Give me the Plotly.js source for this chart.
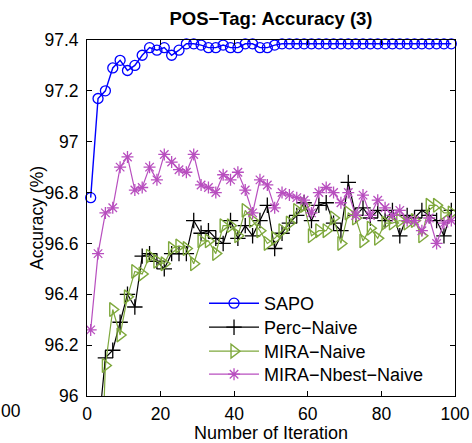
<!DOCTYPE html>
<html>
<head>
<meta charset="utf-8">
<script src="https://cdn.plot.ly/plotly-3.0.1.min.js"></script>
<style>html,body{margin:0;padding:0;background:#fff;}#chart{width:472px;height:443px;}</style>
</head>
<body>
<div id="chart"></div>
<script>
var iterations = [1,3,5,7,9,11,13,15,17,19,21,23,25,27,29,31,33,35,37,39,41,43,45,47,49,51,53,55,57,59,61,63,65,67,69,71,73,75,77,79,81,83,85,87,89,91,93,95,97,99];

var sapo = [96.78,97.17,97.20,97.29,97.32,97.28,97.30,97.34,97.37,97.36,97.37,97.34,97.36,97.385,97.385,97.38,97.37,97.37,97.38,97.37,97.37,97.385,97.385,97.37,97.37,97.38,97.385,97.385,97.385,97.385,97.385,97.385,97.385,97.385,97.385,97.385,97.385,97.385,97.385,97.385,97.385,97.385,97.385,97.385,97.385,97.385,97.385,97.385,97.385,97.385];

var percNaive = [95.4,95.85,96.15,96.18,96.29,96.40,96.35,96.55,96.56,96.53,96.50,96.56,96.56,96.56,96.69,96.64,96.65,96.62,96.60,96.69,96.62,96.67,96.63,96.69,96.75,96.58,96.64,96.68,96.71,96.76,96.69,96.75,96.76,96.68,96.65,96.84,96.71,96.74,96.70,96.73,96.69,96.73,96.63,96.71,96.70,96.73,96.71,96.69,96.63,96.73];

var miraNaive = [94.8,95.32,96.12,96.34,96.24,96.39,96.49,96.48,96.55,96.53,96.52,96.58,96.59,96.58,96.52,96.61,96.61,96.56,96.67,96.67,96.63,96.73,96.69,96.65,96.60,96.62,96.65,96.68,96.73,96.75,96.63,96.65,96.65,96.70,96.60,96.72,96.70,96.61,96.66,96.62,96.68,96.68,96.69,96.68,96.69,96.63,96.75,96.75,96.72,96.72];

var miraNbest = [96.26,96.56,96.72,96.74,96.90,96.94,96.81,96.82,96.90,96.85,96.95,96.92,96.89,96.88,96.95,96.83,96.82,96.80,96.87,96.85,96.88,96.81,96.72,96.85,96.83,96.74,96.80,96.79,96.78,96.77,96.72,96.80,96.82,96.80,96.76,96.80,96.71,96.79,96.71,96.77,96.74,96.71,96.73,96.69,96.69,96.65,96.70,96.60,96.68,96.69];

var seriesNames = ["SAPO", "Perc\u2212Naive", "MIRA\u2212Naive", "MIRA\u2212Nbest\u2212Naive"];
var xTicks = [0,20,40,60,80,100];
var yTicks = [96,96.2,96.4,96.6,96.8,97,97.2,97.4];

var FONT = "Liberation Sans, Arial, sans-serif";

var traces = [
  {x: iterations, y: sapo, name: seriesNames[0], type: "scatter", mode: "lines+markers", legend: "legend", cliponaxis: false,
   line: {color: "#0000ff", width: 1.4},
   marker: {symbol: "circle-open", size: 10, color: "#0000ff", line: {color: "#0000ff", width: 1.3}}},
  {x: iterations, y: percNaive, name: seriesNames[1], type: "scatter", mode: "lines+markers", legend: "legend2",
   line: {color: "#000000", width: 1.2},
   marker: {symbol: "cross-thin-open", size: 11, color: "#000000", line: {color: "#000000", width: 1.3}}},
  {x: iterations, y: miraNaive, name: seriesNames[2], type: "scatter", mode: "lines+markers", legend: "legend3",
   line: {color: "#7ea83c", width: 1.2},
   marker: {symbol: "triangle-right-open", size: 12, color: "#7ea83c", line: {color: "#7ea83c", width: 1.4}}},
  {x: iterations, y: miraNbest, name: seriesNames[3], type: "scatter", mode: "lines+markers", legend: "legend4",
   line: {color: "#b84fbf", width: 1.2},
   marker: {symbol: "asterisk-open", size: 10, color: "#b84fbf", line: {color: "#b84fbf", width: 1.3}}}
];

function legendAt(yTop) {
  return {x: 0.318, y: yTop, xanchor: "left", yanchor: "top", xref: "paper", yref: "paper",
          bgcolor: "rgba(255,255,255,0)", borderwidth: 0, font: {family: FONT, size: 18},
          itemwidth: 50};
}

var layout = {
  width: 472, height: 443,
  margin: {l: 87, r: 17, t: 40, b: 47, pad: 0},
  paper_bgcolor: "#ffffff", plot_bgcolor: "#ffffff",
  font: {family: FONT, size: 17, color: "#000000"},
  title: {text: "<b>POS\u2212Tag: Accuracy (3)</b>", font: {family: FONT, size: 18.5, color: "#000"},
          x: 0.5, xref: "paper", xanchor: "center", y: 0.959, yref: "container", yanchor: "middle"},
  xaxis: {range: [0, 100], tickvals: xTicks, ticktext: xTicks.map(String), ticks: "inside", ticklen: 5, tickwidth: 1, tickcolor: "#000",
          showline: true, linecolor: "#000", linewidth: 1, mirror: "ticks", showgrid: false, zeroline: false,
          tickfont: {family: FONT, size: 17.5}, ticklabelstandoff: 2,
          title: {text: "Number of Iteration", font: {family: FONT, size: 18}, standoff: 3}},
  yaxis: {range: [96, 97.4], tickvals: yTicks, ticktext: yTicks.map(function(v){return String(v);}), ticks: "inside", ticklen: 5, tickwidth: 1, tickcolor: "#000",
          showline: true, linecolor: "#000", linewidth: 1, mirror: "ticks", showgrid: false, zeroline: false,
          tickfont: {family: FONT, size: 17.5}, ticklabelstandoff: 4},
  showlegend: true,
  legend: legendAt(0.3118),
  legend2: legendAt(0.2444),
  legend3: legendAt(0.1770),
  legend4: legendAt(0.1124),
  annotations: [
    {text: "Accuracy (%)", xref: "paper", yref: "paper", x: -0.1359, y: 0.5, xanchor: "center", yanchor: "middle",
     textangle: -90, showarrow: false, borderpad: 0, font: {family: FONT, size: 17.5, color: "#000"}},
    {text: "00", xref: "paper", yref: "paper", x: -0.2364, y: -0.042, xanchor: "left", yanchor: "middle",
     showarrow: false, borderpad: 0, font: {family: FONT, size: 17.5, color: "#000"}}
  ]
};

Plotly.newPlot("chart", traces, layout, {staticPlot: true, displayModeBar: false});
</script>
</body>
</html>
